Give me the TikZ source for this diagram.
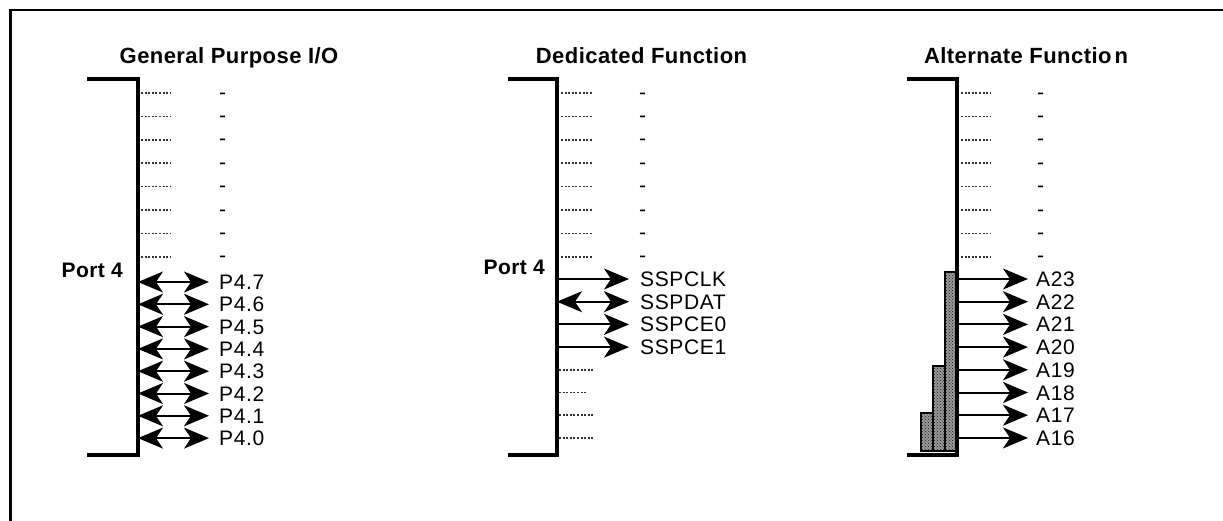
\documentclass[tikz,border=0pt]{standalone}
\usepackage{fontspec}
\setmainfont{Liberation Sans}
\newfontfamily\labfont[LetterSpace=3]{Liberation Sans}
\newfontfamily\ttlfont[LetterSpace=2]{Liberation Sans}
\usetikzlibrary{arrows.meta,patterns}
\begin{document}
\begin{tikzpicture}[x=1pt,y=-1pt,
  >={Stealth[length=25pt,width=21pt,inset=7pt]},
  frame/.style={line width=2.5pt},
  bracket/.style={line width=3.2pt},
  dotrow/.style={line width=1.5pt, dash pattern=on 2pt off 1.6pt, black!80},
  sig/.style={line width=2pt},
  lab/.style={anchor=base west, inner sep=0pt, font=\labfont\fontsize{21}{24}\selectfont},
  ttl/.style={anchor=base, inner sep=0pt, font=\ttlfont\bfseries\fontsize{22}{26}\selectfont},
  port/.style={anchor=base east, inner sep=0pt, font=\ttlfont\bfseries\fontsize{21}{24}\selectfont},
  bar/.style={draw=black, line width=1.5pt, fill=black!40, postaction={pattern=crosshatch dots, pattern color=black!90}},
]
\useasboundingbox (0,0) rectangle (1223,520);
% outer frame (top and left edges visible)
\draw[frame] (10.5,540) -- (10.5,10) -- (1240,10);

% titles
\node[ttl] (t1) at (229,63) {General Purpose I/O};
\node[ttl] (t2) at (641.5,63) {Dedicated Function};
\node[ttl] (t3) at (1026,63) {Alternate Functio\hspace{3pt}n};

% ---------- left panel ----------
\draw[bracket] (87,79) -- (138,79) -- (138,455) -- (87,455);
\node[port] (port1) at (123,277) {Port 4};
\foreach \k in {0,...,7}{
  \pgfmathsetmacro{\yy}{93+23.4*\k}
  \draw[dotrow] (141,\yy) -- (170,\yy);
  \node[lab] (d1\k) at (219,\yy+6) {-};
}
\foreach \j/\t in {0/7,1/6,2/5,3/4,4/3,5/2,6/1,7/0}{
  \pgfmathsetmacro{\yy}{282+22.3*\j}
  \coordinate (ls\j) at (138,\yy);
  \coordinate (le\j) at (209,\yy);
  \draw[sig,<->] (ls\j) -- (le\j);
  \node[lab] (pl\j) at (219,\yy+7.5) {P4.\t};
}

% ---------- middle panel ----------
\draw[bracket] (508,79) -- (557,79) -- (557,455) -- (508,455);
\node[port] (port2) at (545,274) {Port 4};
\foreach \k in {0,...,7}{
  \pgfmathsetmacro{\yy}{93+23.4*\k}
  \draw[dotrow] (561,\yy) -- (593,\yy);
  \node[lab] (d2\k) at (639,\yy+6) {-};
}
\foreach \j/\t/\a in {0/SSPCLK/->,1/SSPDAT/<->,2/SSPCE0/->,3/SSPCE1/->}{
  \pgfmathsetmacro{\yy}{279+22.7*\j}
  \coordinate (ms\j) at (557,\yy);
  \coordinate (me\j) at (629,\yy);
  \draw[sig,\a] (ms\j) -- (me\j);
  \node[lab] (ml\j) at (640,\yy+7.5) {\t};
}
\foreach \j/\e in {4/593,5/587,6/593,7/593}{
  \pgfmathsetmacro{\yy}{279+22.7*\j}
  \draw[dotrow] (559,\yy) -- (\e,\yy);
}

% ---------- right panel ----------
\draw[bar] (945,272) rectangle (957,451);
\draw[bar] (933,366) rectangle (945,451);
\draw[bar] (921,413) rectangle (933,451);
\draw[bracket] (907,79) -- (957,79) -- (957,455) -- (907,455);
\foreach \k in {0,...,7}{
  \pgfmathsetmacro{\yy}{93+23.4*\k}
  \draw[dotrow] (961,\yy) -- (991,\yy);
  \node[lab] (d3\k) at (1037,\yy+6) {-};
}
\foreach \j/\t in {0/23,1/22,2/21,3/20,4/19,5/18,6/17,7/16}{
  \pgfmathsetmacro{\yy}{279+22.7*\j}
  \coordinate (rs\j) at (957,\yy);
  \coordinate (re\j) at (1028,\yy);
  \draw[sig,->] (rs\j) -- (re\j);
  \node[lab] (rl\j) at (1036,\yy+7.5) {A\t};
}
\end{tikzpicture}
\end{document}
